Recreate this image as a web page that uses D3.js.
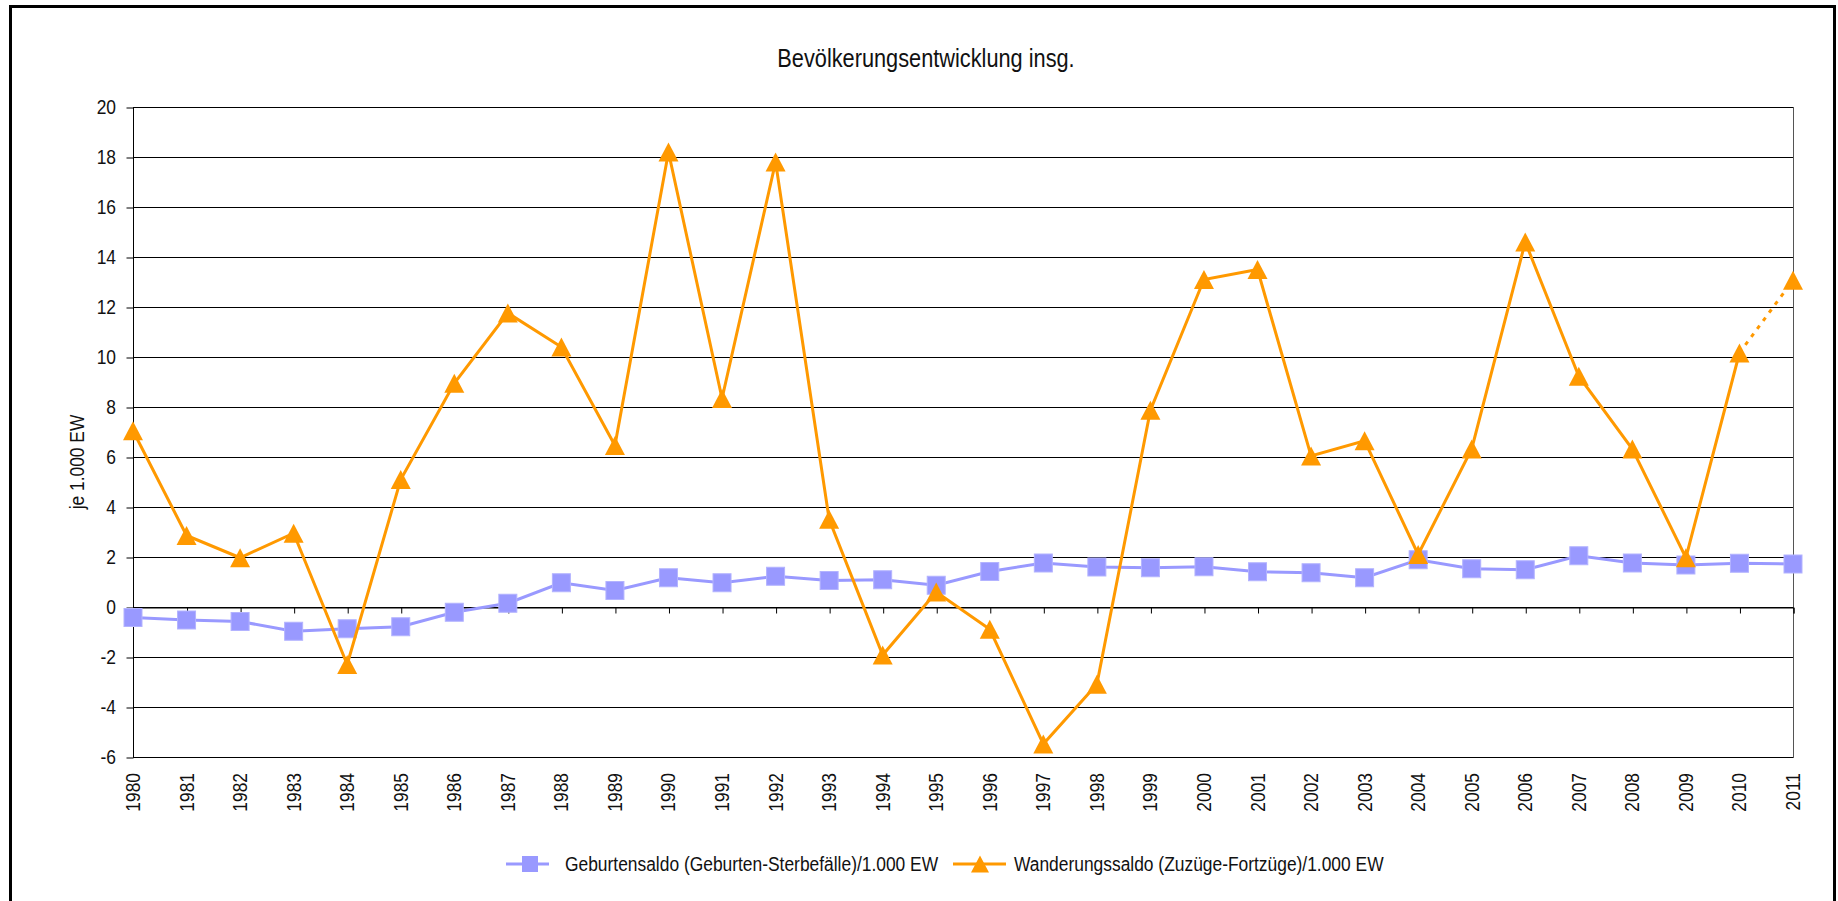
<!DOCTYPE html>
<html>
<head>
<meta charset="utf-8">
<script src="https://cdn.jsdelivr.net/npm/d3@7"></script>
<style>
  html, body { margin: 0; padding: 0; background: #fff; }
  svg { display: block; font-family: "Liberation Sans", Arial, sans-serif; }
</style>
</head>
<body>
<svg id="chart" width="1838" height="901"></svg>
<script>
const years = d3.range(1980, 2012);

// Geburtensaldo (Geburten-Sterbefälle)/1.000 EW
const geburten = [
  -0.42, -0.52, -0.58, -0.97, -0.87, -0.79, -0.21, 0.15, 0.97, 0.66,
  1.17, 0.97, 1.23, 1.06, 1.09, 0.87, 1.42, 1.76, 1.6, 1.57,
  1.61, 1.41, 1.37, 1.17, 1.89, 1.53, 1.49, 2.05, 1.76, 1.68,
  1.75, 1.72,
];

// Wanderungssaldo (Zuzüge-Fortzüge)/1.000 EW
const wanderung = [
  7.05, 2.86, 1.97, 2.95, -2.3, 5.1, 8.95, 11.76, 10.4, 6.46,
  18.2, 8.34, 17.8, 3.51, -1.92, 0.6, -0.89, -5.48, -3.09, 7.87,
  13.1, 13.5, 6.04, 6.65, 2.1, 6.32, 14.6, 9.23, 6.32, 1.97,
  10.16, 13.07,
];

const yTicks = d3.range(-6, 21, 2);
const seriesNames = [
  "Geburtensaldo (Geburten-Sterbefälle)/1.000 EW",
  "Wanderungssaldo (Zuzüge-Fortzüge)/1.000 EW",
];

const blue = "#9999ff";
const orange = "#ff9900";
const narrow = 0.87; // squeeze regular sans to look like Arial Narrow

const svg = d3.select("#chart");

// outer frame
svg.append("rect")
  .attr("x", 10.5).attr("y", 6.5)
  .attr("width", 1824).attr("height", 1000)
  .attr("fill", "none").attr("stroke", "#000").attr("stroke-width", 3);

const plotL = 133, plotR = 1793, plotT = 107, plotB = 757;

const x = d3.scaleLinear().domain([1980, 2011]).range([plotL, plotR]);
const y = d3.scaleLinear().domain([-6, 20]).range([plotB, plotT]);

// grid lines
svg.append("g")
  .selectAll("line")
  .data(yTicks)
  .join("line")
  .attr("x1", plotL).attr("x2", plotR)
  .attr("y1", (d) => Math.round(y(d)) + 0.5)
  .attr("y2", (d) => Math.round(y(d)) + 0.5)
  .attr("stroke", "#000").attr("stroke-width", 1);

// right edge of plot
svg.append("line")
  .attr("x1", plotR + 0.5).attr("x2", plotR + 0.5)
  .attr("y1", plotT).attr("y2", plotB + 1)
  .attr("stroke", "#555").attr("stroke-width", 1);

// y axis (ticks only, labels drawn below)
const yAxis = svg.append("g")
  .attr("transform", `translate(${plotL + 0.5},0.5)`)
  .call(d3.axisLeft(y).tickValues(yTicks).tickSize(7).tickFormat(""));
yAxis.select(".domain").attr("d", `M0,${Math.round(y(20))}V${Math.round(y(-6))}`).attr("stroke", "#000");
yAxis.selectAll(".tick line").attr("stroke", "#000");

svg.append("g")
  .selectAll("text")
  .data(yTicks)
  .join("text")
  .attr("transform", (d) => `translate(116,${y(d) + 7}) scale(${narrow},1)`)
  .attr("text-anchor", "end")
  .attr("font-size", 20)
  .attr("fill", "#111")
  .text((d) => String(d));

// x axis at zero
const xAxis = svg.append("g")
  .attr("transform", `translate(0.5,${Math.round(y(0)) + 0.5})`)
  .call(d3.axisBottom(x).tickValues(years).tickSize(6).tickFormat(""));
xAxis.select(".domain").attr("stroke", "#000");
xAxis.selectAll(".tick line").attr("stroke", "#000");

// year labels below plot
svg.append("g")
  .selectAll("text")
  .data(years)
  .join("text")
  .attr("transform", (d) => `translate(${x(d) + 7},773) rotate(-90) scale(${narrow},1)`)
  .attr("text-anchor", "end")
  .attr("font-size", 20)
  .attr("fill", "#111")
  .text((d) => d);

// y axis title
svg.append("text")
  .attr("transform", `translate(84,462) rotate(-90) scale(${narrow},1)`)
  .attr("text-anchor", "middle")
  .attr("font-size", 20)
  .attr("fill", "#111")
  .text("je 1.000 EW");

// title
svg.append("text")
  .attr("transform", `translate(926,67) scale(${narrow},1)`)
  .attr("text-anchor", "middle")
  .attr("font-size", 25)
  .attr("fill", "#111")
  .text("Bevölkerungsentwicklung insg.");

const line = d3.line()
  .x((d, i) => x(years[i]))
  .y((d) => y(d));

// Geburtensaldo
svg.append("path")
  .datum(geburten)
  .attr("d", line)
  .attr("fill", "none")
  .attr("stroke", blue)
  .attr("stroke-width", 3);

svg.append("g")
  .selectAll("rect")
  .data(geburten)
  .join("rect")
  .attr("x", (d, i) => x(years[i]) - 9)
  .attr("y", (d) => y(d) - 9)
  .attr("width", 18).attr("height", 18)
  .attr("fill", blue)
  .attr("stroke", "#b3b3ff").attr("stroke-width", 1);

// Wanderungssaldo: solid up to 2010, dotted to 2011
const last = wanderung.length - 1;
svg.append("path")
  .datum(wanderung.slice(0, last))
  .attr("d", line)
  .attr("fill", "none")
  .attr("stroke", orange)
  .attr("stroke-width", 3);

svg.append("path")
  .attr("d", `M${x(years[last - 1])},${y(wanderung[last - 1])}L${x(years[last])},${y(wanderung[last])}`)
  .attr("fill", "none")
  .attr("stroke", orange)
  .attr("stroke-width", 3)
  .attr("stroke-dasharray", "4,6");

const triPath = (w, h) => `M0,${-h / 2}L${w / 2},${h / 2}L${-w / 2},${h / 2}Z`;

svg.append("g")
  .selectAll("path")
  .data(wanderung)
  .join("path")
  .attr("transform", (d, i) => `translate(${x(years[i])},${y(d)})`)
  .attr("d", triPath(20, 19))
  .attr("fill", orange);

// legend
const legend = svg.append("g").attr("transform", "translate(0,864)");

legend.append("line")
  .attr("x1", 506).attr("x2", 549).attr("y1", 0).attr("y2", 0)
  .attr("stroke", blue).attr("stroke-width", 3);
legend.append("rect")
  .attr("x", 522).attr("y", -8).attr("width", 16).attr("height", 16)
  .attr("fill", blue);
legend.append("text")
  .attr("transform", `translate(565,7) scale(${narrow},1)`)
  .attr("font-size", 20).attr("fill", "#111")
  .text(seriesNames[0]);

legend.append("line")
  .attr("x1", 953).attr("x2", 1006).attr("y1", 0).attr("y2", 0)
  .attr("stroke", orange).attr("stroke-width", 3);
legend.append("path")
  .attr("transform", "translate(980,0)")
  .attr("d", triPath(18, 17))
  .attr("fill", orange);
legend.append("text")
  .attr("transform", `translate(1014,7) scale(${narrow},1)`)
  .attr("font-size", 20).attr("fill", "#111")
  .text(seriesNames[1]);
</script>
</body>
</html>
